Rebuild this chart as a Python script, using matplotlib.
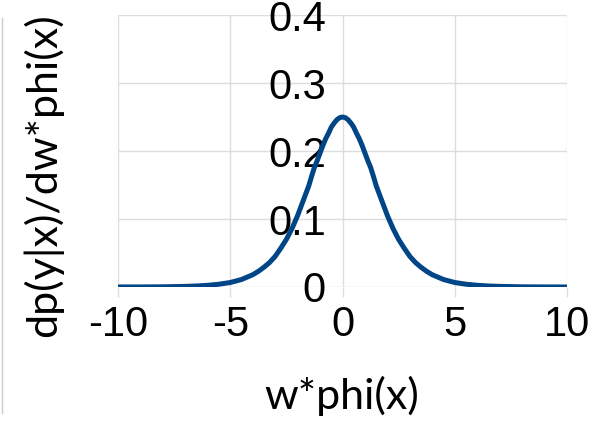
import matplotlib
matplotlib.use('Agg')
import matplotlib.pyplot as plt
from matplotlib.lines import Line2D

# データ
x_right = [0.0, 0.125, 0.25, 0.375, 0.5, 0.625, 0.75, 0.875, 1.0, 1.125,
           1.25, 1.375, 1.5, 1.75, 2.0, 2.25, 2.5, 2.75,
           3.0, 3.25, 3.5, 3.75, 4.0, 4.5, 5.0, 5.5, 6.0, 6.5, 7.0, 7.5,
           8.0, 8.5, 9.0, 9.5, 10.0]
y_right = [0.250, 0.249, 0.246, 0.241, 0.235, 0.226, 0.218, 0.208, 0.197,
           0.186, 0.176, 0.163, 0.149, 0.127, 0.105,
           0.086, 0.070, 0.057, 0.045, 0.036, 0.029, 0.023, 0.018, 0.011,
           0.0066, 0.0041, 0.0025, 0.0015, 0.0009, 0.0006, 0.0003, 0.0002,
           0.0001, 0.0001, 0.00005]
# 左右対称の曲線
x_vals = [-v for v in x_right[:0:-1]] + x_right
y_vals = y_right[:0:-1] + y_right

x_ticks = [-10, -5, 0, 5, 10]
y_ticks = [0, 0.1, 0.2, 0.3, 0.4]
x_title = 'w*phi(x)'
y_title = 'dp(y|x)/dw*phi(x)'

fig = plt.figure(figsize=(6.09, 4.23), dpi=100)
ax = fig.add_axes([118 / 609, 1 - 287 / 423, (567 - 118) / 609, (287 - 15) / 423])

ax.plot(x_vals, y_vals, color='#004586', linewidth=3.6,
        solid_joinstyle='round', solid_capstyle='butt')

ax.set_xlim(-10, 10)
ax.set_ylim(0, 0.4)
ax.set_xticks(x_ticks)
ax.set_yticks(y_ticks)
ax.set_xticklabels([str(t) for t in x_ticks])
ax.set_yticklabels(['0', '0.1', '0.2', '0.3', '0.4'])

# グリッド
ax.grid(True, color='#dddddd', linewidth=1.0)
ax.set_axisbelow(True)
for s in ax.spines.values():
    s.set_visible(False)

# y軸はx=0の位置に
ax.spines['left'].set_position(('data', 0))
ax.tick_params(axis='y', length=0, pad=12, labelsize=30)
ax.tick_params(axis='x', length=7, color='#dddddd', width=1.0, pad=6, labelsize=30)
for lab in ax.get_xticklabels() + ax.get_yticklabels():
    lab.set_fontfamily('Liberation Sans')

fig.text(43 / 609, 1 - 175 / 423, y_title, rotation=90, ha='center', va='center',
         fontsize=31, family='Lato')
fig.text(342 / 609, 1 - 396 / 423, x_title, ha='center', va='center',
         fontsize=31, family='Lato')

# 左端の細い線
fig.add_artist(Line2D([1.5 / 609, 1.5 / 609], [1 - 18 / 423, 1 - 413 / 423],
                      color='#cccccc', linewidth=1.0))

fig.savefig('out.png', dpi=100)
